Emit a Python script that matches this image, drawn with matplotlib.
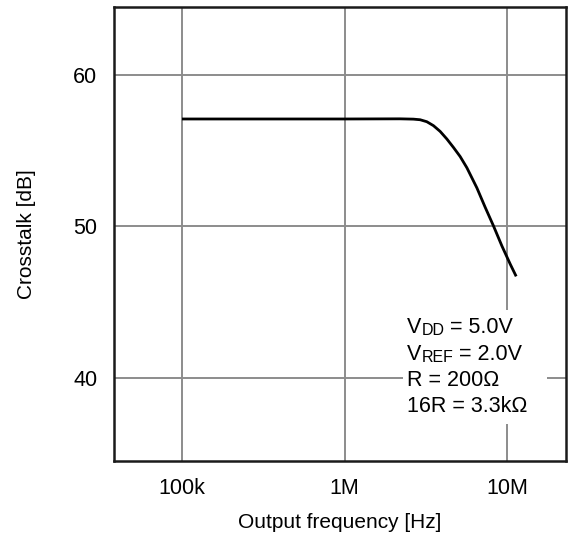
import numpy as np
import matplotlib
matplotlib.use('Agg')
import matplotlib.pyplot as plt
from matplotlib.patches import Rectangle

plt.rcParams['font.family'] = ['Liberation Sans', 'DejaVu Sans']

# crosstalk curve
freq_hz = [1.0e5, 3.0e5, 1.0e6, 2.195e6, 2.65e6, 2.915e6, 3.204e6, 3.52e6,
           3.87e6, 4.255e6, 4.673e6, 5.137e6, 5.65e6, 6.51e6, 7.32e6,
           8.24e6, 9.28e6, 1.044e7, 1.136e7]
crosstalk_db = [57.1, 57.1, 57.1, 57.11, 57.09, 57.05, 56.92, 56.66,
                56.28, 55.78, 55.22, 54.62, 53.88, 52.55, 51.27,
                50.03, 48.71, 47.51, 46.70]

xtick_vals = [1e5, 1e6, 1e7]
xtick_labels = ['100k', '1M', '10M']
ytick_vals = [40, 50, 60]

note_lines = [('V', 'DD', ' = 5.0V'),
              ('V', 'REF', ' = 2.0V'),
              ('R = 200\u03a9', '', ''),
              ('16R = 3.3k\u03a9', '', '')]

fig = plt.figure(figsize=(5.69, 5.38), dpi=100)
ax = fig.add_axes([114/569, 77/538, 452/569, 454/538])

ax.set_xscale('log')
ax.set_xlim(3.82e4, 2.3e7)
ax.set_ylim(34.5, 64.5)

ax.plot(freq_hz, crosstalk_db, color='black', lw=2.0, zorder=4,
        solid_capstyle='butt', solid_joinstyle='round')

ax.set_xticks(xtick_vals)
ax.set_xticklabels(xtick_labels)
ax.xaxis.set_minor_locator(plt.NullLocator())
ax.set_yticks(ytick_vals)
ax.grid(True, color='#8c8c8c', lw=1.4, zorder=1)
ax.set_axisbelow(True)
ax.tick_params(length=0, labelsize=15.5, pad=12)
for s in ax.spines.values():
    s.set_linewidth(1.8)
    s.set_color('#1a1a1a')

ax.set_xlabel('Output frequency [Hz]', fontsize=15, labelpad=10)
ax.set_ylabel('Crosstalk [dB]', fontsize=15, labelpad=27)

# white box under the notes
ax.add_patch(Rectangle((0.639, 0.0815), 0.319, 0.252, transform=ax.transAxes,
                       facecolor='white', edgecolor='none', zorder=2))

y0 = 0.270
dy = 0.058
for i, (a, b, c) in enumerate(note_lines):
    t = ax.text(0.648, y0 - i*dy, a, transform=ax.transAxes, fontsize=15.5,
                va='bottom', ha='left', zorder=5)
    if b:
        t2 = ax.annotate(b, xy=(1, 0), xycoords=t, fontsize=11.5,
                         va='bottom', ha='left', zorder=5)
        ax.annotate(c, xy=(1, 0), xycoords=t2, fontsize=15.5,
                    va='bottom', ha='left', zorder=5)

fig.savefig('out.png', dpi=100)
